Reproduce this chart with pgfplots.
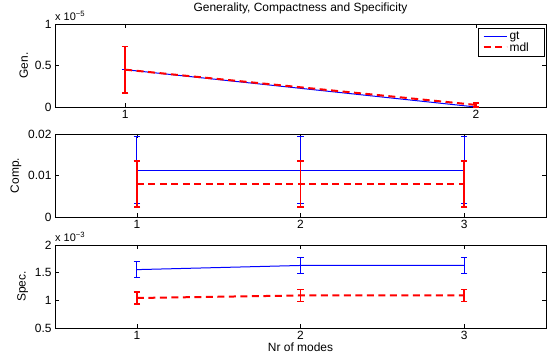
\documentclass[border=0pt]{standalone}
\usepackage{fontspec}
\setmainfont{Liberation Sans}
\usepackage{pgfplots}
\pgfplotsset{compat=1.18}
\pgfplotsset{
  mpanel/.style={
    scale only axis, width=491bp, height=83bp, anchor=south west,
    tick align=inside, xtick pos=both, ytick pos=both,
    major tick length=4bp,
    tick style={black, line width=0.5bp},
    axis line style={line width=0.8bp},
    scaled y ticks=false, scaled x ticks=false,
    font=\fontsize{12}{14}\selectfont,
    tick label style={font=\fontsize{12}{14}\selectfont},
    label style={font=\fontsize{12}{14}\selectfont},
    /pgf/number format/assume math mode=true,
    clip=false,
  },
  gtstyle/.style={color=blue, line width=1bp, solid, mark=none,
    error bars/y dir=both, error bars/y explicit,
    error bars/error bar style={blue, solid, line width=1bp},
    error bars/error mark options={blue, solid, line width=1bp, mark size=3.3bp, rotate=90}},
  mdlstyle/.style={color=red, line width=2bp, dash pattern=on 7bp off 4.5bp, mark=none,
    error bars/y dir=both, error bars/y explicit,
    error bars/error bar style={red, solid, line width=1.8bp},
    error bars/error mark options={red, solid, line width=1.8bp, mark size=3.3bp, rotate=90}},
}
\begin{document}
\begin{tikzpicture}
\useasboundingbox (0,0) rectangle (548bp,353bp);
% Top panel: Generality
\begin{axis}[mpanel, at={(55bp,246bp)},
  xmin=0.8, xmax=2.2, xtick={1,2}, xticklabels={1,2},
  ymin=0, ymax=1e-5, ytick={0,0.5e-5,1e-5}, yticklabels={0,0.5,1},
  ylabel={Gen.},
  title={Generality, Compactness and Specificity},
  title style={font=\fontsize{12}{14}\selectfont, at={(0.5,1)}, anchor=south, yshift=1bp},
  legend style={at={(0.996,0.952)}, anchor=north east,
    font=\fontsize{12}{13}\selectfont, inner xsep=4bp, inner ysep=1.5bp, row sep=-2.5bp, cells={anchor=west}},
]
\addplot[gtstyle, forget plot] coordinates {(1,0.45e-5) +- (0,0) (2,0.0) +- (0,0)};
\addplot[mdlstyle, forget plot] coordinates {(1,0.45e-5) +- (0,0.28e-5) (2,0.025e-5) +- (0,0.025e-5)};
\addlegendimage{legend image code/.code={\draw[draw=blue, line width=1bp, solid] (0bp,0bp) -- (23bp,0bp);}}
\addlegendentry{gt}
\addlegendimage{legend image code/.code={\draw[draw=red, line width=2bp, dash pattern=on 7bp off 4.5bp] (0bp,0bp) -- (23bp,0bp);}}
\addlegendentry{mdl\hspace*{9bp}}
\node[anchor=south west, inner sep=0pt, font=\fontsize{11}{12}\selectfont] at ([yshift=3bp]rel axis cs:0,1) {x 10\textsuperscript{−5}};
\end{axis}
% Middle panel: Compactness
\begin{axis}[mpanel, at={(55bp,136bp)},
  xmin=0.5, xmax=3.5, xtick={1,2,3}, xticklabels={1,2,3},
  ymin=0, ymax=0.02, ytick={0,0.01,0.02}, yticklabels={0,0.01,0.02},
  ylabel={Comp.},
]
\addplot[gtstyle] coordinates {(1,0.0113) +- (0,0.0081) (2,0.0113) +- (0,0.0081) (3,0.0113) +- (0,0.0081)};
\addplot[mdlstyle] coordinates {(1,0.0080) +- (0,0.0055) (2,0.0080) +- (0,0.0055) (3,0.0080) +- (0,0.0055)};
\end{axis}
% Bottom panel: Specificity
\begin{axis}[mpanel, at={(55bp,25bp)},
  xmin=0.5, xmax=3.5, xtick={1,2,3}, xticklabels={1,2,3},
  ymin=0.5e-3, ymax=2e-3, ytick={0.5e-3,1e-3,1.5e-3,2e-3}, yticklabels={0.5,1,1.5,2},
  ylabel={Spec.}, xlabel={Nr of modes},
  xlabel style={yshift=4bp},
]
\addplot[gtstyle] coordinates {(1,1.555e-3) +- (0,0.14e-3) (2,1.63e-3) +- (0,0.148e-3) (3,1.63e-3) +- (0,0.148e-3)};
\addplot[mdlstyle] coordinates {(1,1.042e-3) +- (0,0.108e-3) (2,1.088e-3) +- (0,0.108e-3) (3,1.088e-3) +- (0,0.108e-3)};
\node[anchor=south west, inner sep=0pt, font=\fontsize{11}{12}\selectfont] at ([yshift=3bp]rel axis cs:0,1) {x 10\textsuperscript{−3}};
\end{axis}
\end{tikzpicture}
\end{document}
